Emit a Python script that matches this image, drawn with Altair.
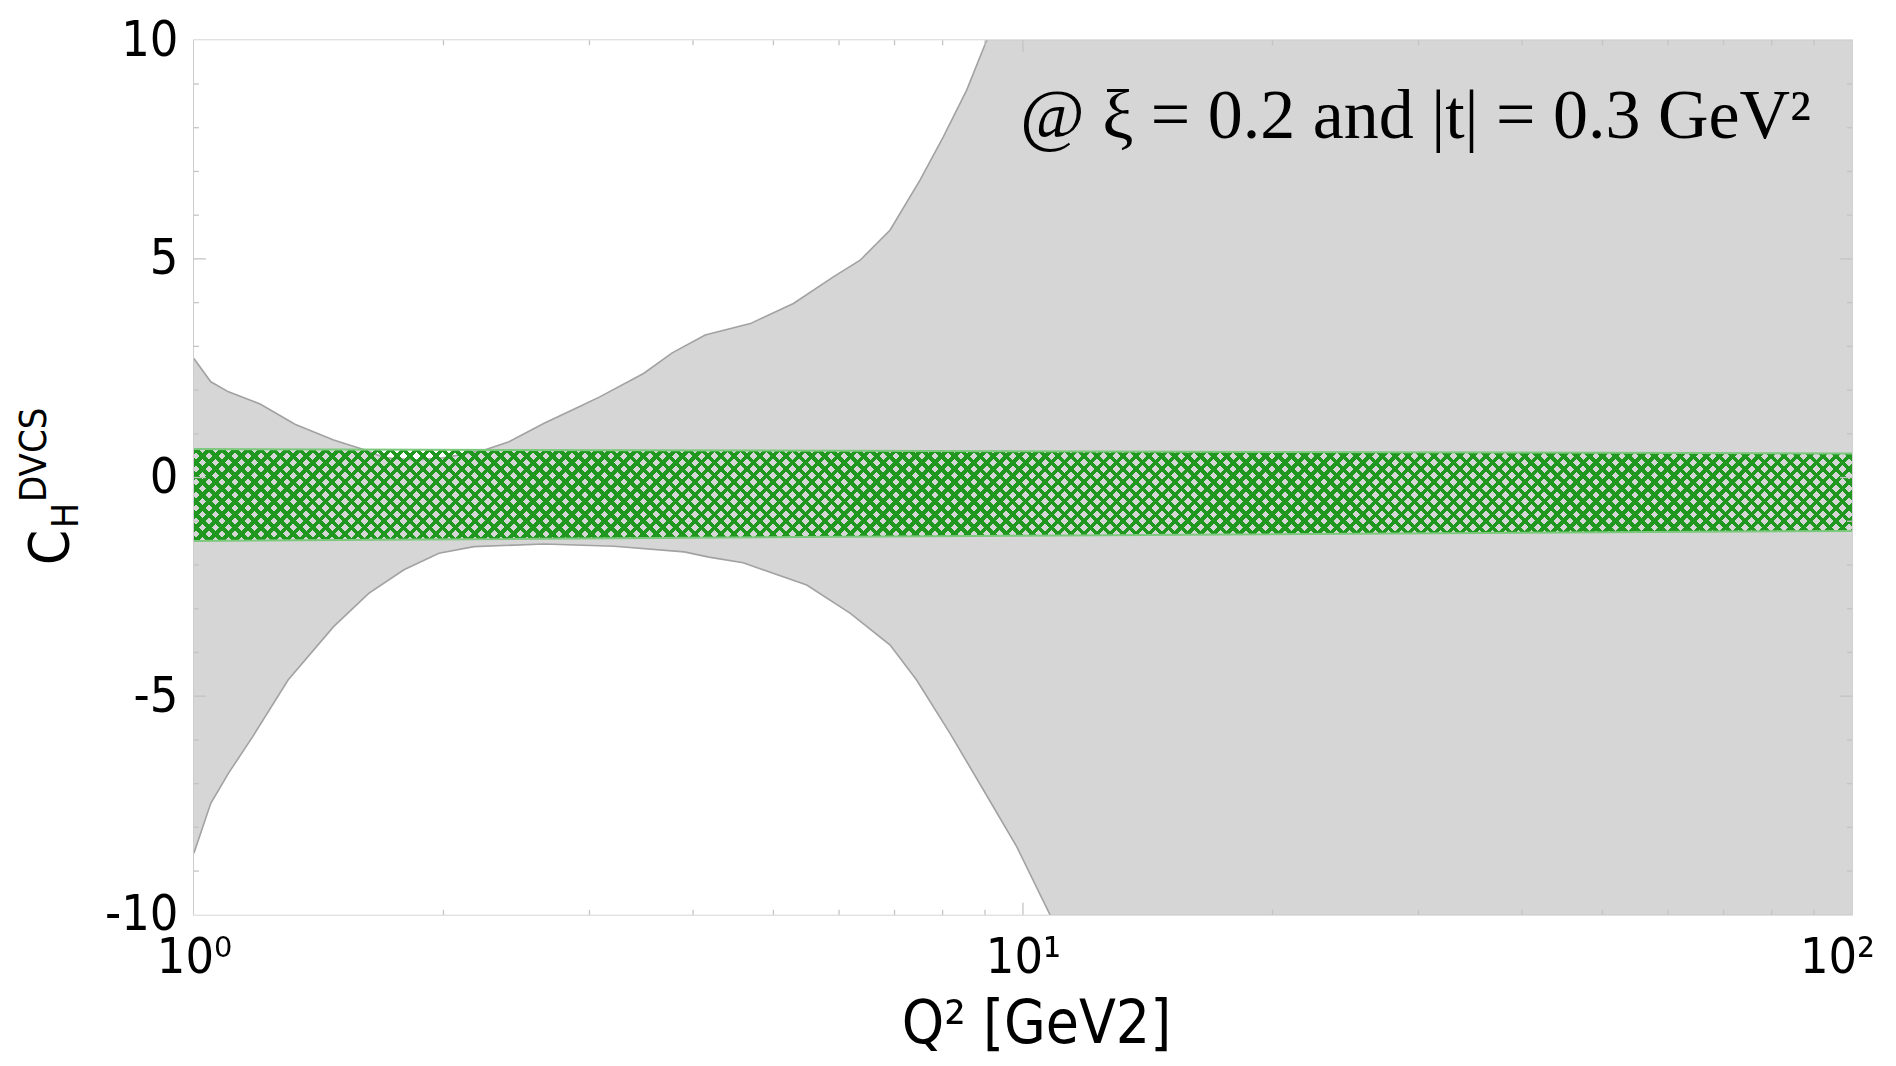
import altair as alt
import pandas as pd

# ---- data ----
q_upper = [1.000, 1.048, 1.101, 1.202, 1.324, 1.474, 1.609, 1.70, 1.85, 2.00, 2.241, 2.399,
           2.645, 2.915, 3.091, 3.486, 3.775, 4.137, 4.69, 5.286, 5.906, 6.362, 6.915,
           7.513, 8.015, 8.553, 9.042, 9.5, 10.0, 100.0]
v_upper = [2.72, 2.19, 1.96, 1.68, 1.22, 0.86, 0.63, 0.45, 0.40, 0.45, 0.63, 0.82,
           1.24, 1.62, 1.85, 2.38, 2.85, 3.26, 3.52, 3.98, 4.59, 4.97, 5.66,
           6.80, 7.79, 8.86, 10.0, 11.0, 12.0, 12.0]

q_lower = [1.000, 1.048, 1.101, 1.178, 1.299, 1.474, 1.625, 1.792, 1.975, 2.177, 2.645,
           3.213, 3.903, 4.180, 4.597, 5.485, 6.186, 6.915, 7.442, 8.166, 8.957, 9.827,
           10.78, 11.5, 100.0]
v_lower = [-8.59, -7.45, -6.76, -5.92, -4.63, -3.41, -2.65, -2.11, -1.73, -1.58, -1.52,
           -1.57, -1.70, -1.82, -1.95, -2.46, -3.10, -3.83, -4.63, -5.85, -7.14, -8.44,
           -10.0, -11.2, -12.0]

q_band = [1.0, 10.0, 100.0]
band_top = [0.65, 0.60, 0.55]
band_bot = [-1.45, -1.33, -1.22]

x_tick_values = [1, 10, 100]
x_tick_labels = ["10⁰", "10¹", "10²"]
y_tick_values = [-10, -5, 0, 5, 10]
x_minor = [2, 3, 4, 5, 6, 7, 8, 9, 20, 30, 40, 50, 60, 70, 80, 90]
x_major = [10]
y_minor = [v for v in range(-9, 10) if v % 5 != 0]
y_major = [-5, 0, 5]

annotation = "@ ξ = 0.2 and |t| = 0.3 GeV²"
x_title = "Q² [GeV2]"

W, H = 1659, 875
SANS = "DejaVu Sans Condensed, Liberation Sans Narrow, DejaVu Sans, sans-serif"
FRAME = "#c4c4c4"
GRAY = "#d6d6d6"

xs = alt.Scale(type="log", domain=[1, 100], nice=False)
ys = alt.Scale(domain=[-10, 10], nice=False, zero=False)

label_expr = " : ".join(
    [f"datum.value == {v} ? '{t}'" for v, t in zip(x_tick_values[:-1], x_tick_labels[:-1])]
) + f" : '{x_tick_labels[-1]}'"

xaxis = alt.Axis(values=x_tick_values, labelExpr=label_expr, ticks=False, tickSize=0,
                 domain=False, grid=False, labelFont=SANS, labelFontSize=50,
                 labelColor="black", labelPadding=18, labelOverlap=False,
                 labelBound=False, labelFlush=False, title=None,
                 labelOffset={"condition": {"test": f"datum.value == {x_tick_values[-1]}",
                                            "value": -15}, "value": 0})
yaxis = alt.Axis(values=y_tick_values,
                 labelExpr="datum.value < 0 ? '-' + abs(datum.value) : '' + datum.value",
                 ticks=False, tickSize=0, domain=False, grid=False, labelFont=SANS,
                 labelFontSize=50, labelColor="black", labelPadding=16,
                 labelOverlap=False, labelBound=False, title=None)


def X(field):
    return alt.X(field, scale=xs, axis=xaxis)


def Y(field):
    return alt.Y(field, scale=ys, axis=yaxis)


df_up = pd.DataFrame({"q": q_upper, "v": v_upper})
df_lo = pd.DataFrame({"q": q_lower, "v": v_lower})
df_band = pd.DataFrame({"q": q_band, "top": band_top, "bot": band_bot})

background = alt.Chart(pd.DataFrame({"a": [0]})).mark_rect(fill=GRAY, strokeWidth=0).encode(
    x=alt.value(0), x2=alt.value(W), y=alt.value(0), y2=alt.value(H))

# white (excluded) regions outside the gray uncertainty envelope
white_up = alt.Chart(df_up).mark_area(fill="white", strokeWidth=0, clip=True).encode(
    x=X("q:Q"), y=Y("v:Q"), y2=alt.datum(14))
white_lo = alt.Chart(df_lo).mark_area(fill="white", strokeWidth=0, clip=True).encode(
    x=X("q:Q"), y=Y("v:Q"), y2=alt.datum(-14))
line_up = alt.Chart(df_up).mark_line(color="#a2a2a2", strokeWidth=1.6, clip=True).encode(
    x=X("q:Q"), y=Y("v:Q"))
line_lo = alt.Chart(df_lo).mark_line(color="#a2a2a2", strokeWidth=1.6, clip=True).encode(
    x=X("q:Q"), y=Y("v:Q"))

# cross-hatch texture of the green band, made of two diagonal stripe gradients
band_h = (max(band_top) - min(band_bot)) / 20.0 * H
k = band_h / W
period_px = 13.0
ext = 1.06
n_periods = int(round(ext * W * (1 + k * k) / period_px))
GREEN = "rgba(32,152,32,1)"
CLEAR = "rgba(32,152,32,0)"


def stripe_gradient(x1, y1, x2, y2, duty=0.42):
    stops = []
    for i in range(n_periods):
        a = i / n_periods
        b = (i + duty) / n_periods
        c = (i + 1) / n_periods
        stops += [{"offset": a, "color": GREEN}, {"offset": b, "color": GREEN},
                  {"offset": b, "color": CLEAR}, {"offset": c, "color": CLEAR}]
    return {"gradient": "linear", "x1": x1, "y1": y1, "x2": x2, "y2": y2, "stops": stops}


grad_a = stripe_gradient(0, 0, ext, ext * k)
grad_b = stripe_gradient(0, 1, ext, 1 - ext * k)

hatch_a = alt.Chart(df_band).mark_area(fill=grad_a, strokeWidth=0, clip=True).encode(
    x=X("q:Q"), y=Y("top:Q"), y2="bot:Q")
hatch_b = alt.Chart(df_band).mark_area(fill=grad_b, strokeWidth=0, clip=True).encode(
    x=X("q:Q"), y=Y("top:Q"), y2="bot:Q")
band_edge_top = alt.Chart(df_band).mark_line(color="#7cc87c", strokeWidth=2, clip=True).encode(
    x=X("q:Q"), y=Y("top:Q"))
band_edge_bot = alt.Chart(df_band).mark_line(color="#7cc87c", strokeWidth=2, clip=True).encode(
    x=X("q:Q"), y=Y("bot:Q"))


def yticks(vals, x0, x1):
    return alt.Chart(pd.DataFrame({"v": vals})).mark_rule(color=FRAME, strokeWidth=1.3).encode(
        y=Y("v:Q"), x=alt.value(x0), x2=alt.value(x1))


def xticks(vals, y0, y1):
    return alt.Chart(pd.DataFrame({"q": vals})).mark_rule(color=FRAME, strokeWidth=1.3).encode(
        x=X("q:Q"), y=alt.value(y0), y2=alt.value(y1))


ticks = [
    yticks(y_minor, 0, 5), yticks(y_major, 0, 12),
    yticks(y_minor, W - 5, W), yticks(y_major, W - 12, W),
    xticks(x_minor, H - 5, H), xticks(x_major, H - 12, H),
    xticks(x_minor, 0, 5), xticks(x_major, 0, 12),
]


def text_layer(t, x, y, size, font=SANS, angle=0, align="left"):
    return alt.Chart(pd.DataFrame({"t": [t]})).mark_text(
        font=font, fontSize=size, angle=angle, align=align, baseline="alphabetic",
        color="black"
    ).encode(text="t:N", x=alt.value(x), y=alt.value(y))


texts = [
    text_layer(annotation, 1618, 98, 70, font="Liberation Serif", align="right"),
    text_layer(x_title, 843, 1003, 60, align="center"),
    text_layer("C", -126, 525, 56, angle=270),
    text_layer("H", -116, 488, 37, angle=270),
    text_layer("DVCS", -148, 462, 38, angle=270),
]

chart = alt.layer(
    background, white_up, white_lo, line_up, line_lo,
    hatch_a, hatch_b, band_edge_top, band_edge_bot, *ticks, *texts
).properties(
    width=W, height=H,
    padding={"left": 186, "top": 32, "right": 36, "bottom": 142},
    autosize=alt.AutoSizeParams(type="none"),
).configure_view(stroke=FRAME, strokeWidth=1.5)

chart.save("out.html", embed_options={"renderer": "svg", "actions": False})
